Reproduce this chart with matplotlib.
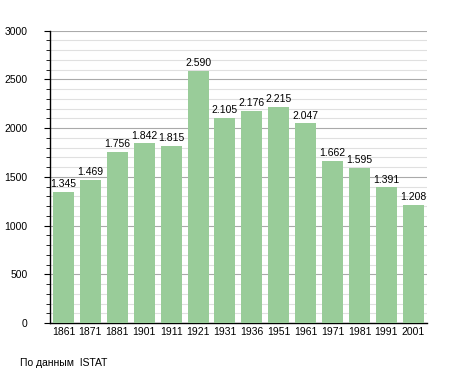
import matplotlib.pyplot as plt
from matplotlib.ticker import MultipleLocator

years = ['1861', '1871', '1881', '1901', '1911', '1921', '1931',
         '1936', '1951', '1961', '1971', '1981', '1991', '2001']
population = [1345, 1469, 1756, 1842, 1815, 2590, 2105,
              2176, 2215, 2047, 1662, 1595, 1391, 1208]

plt.rcParams['font.family'] = ['Liberation Sans', 'DejaVu Sans']

fig = plt.figure(figsize=(4.55, 3.73), dpi=100)
ax = fig.add_axes([0.1099, 0.134, 0.828, 0.784])

x = range(len(years))
ax.bar(x, population, width=0.78, color='#99cc99', zorder=3)

for i, v in enumerate(population):
    label = '{:,}'.format(v).replace(',', '.')
    ax.annotate(label, (i, v), xytext=(0, 2), textcoords='offset points',
                ha='center', va='bottom', fontsize=7.5, zorder=4)

ax.set_xlim(-0.5, len(years) - 0.5)
ax.set_ylim(0, 3000)
ax.set_xticks(list(x))
ax.set_xticklabels(years, fontsize=7.5)
ax.tick_params(axis='x', length=0, pad=3)

ax.yaxis.set_major_locator(MultipleLocator(500))
ax.yaxis.set_minor_locator(MultipleLocator(100))
ax.tick_params(axis='y', which='major', length=4, labelsize=7.5, pad=12)
ax.tick_params(axis='y', which='minor', length=3)

ax.grid(axis='y', which='major', color='#aaaaaa', linewidth=0.8, zorder=0)
ax.grid(axis='y', which='minor', color='#e0e0e0', linewidth=0.8, zorder=0)
ax.set_axisbelow(True)

for s in ['top', 'right']:
    ax.spines[s].set_visible(False)
ax.spines['left'].set_linewidth(1)
ax.spines['bottom'].set_linewidth(1)

fig.text(20 / 455, 1 - 363 / 373, 'По данным  ISTAT', fontsize=7.5,
         ha='left', va='center')

fig.savefig('out.png', dpi=100)
